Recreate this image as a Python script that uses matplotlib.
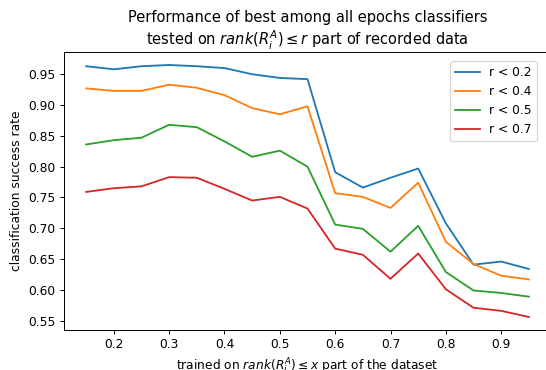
import matplotlib
matplotlib.use("Agg")
import matplotlib.pyplot as plt

x = [0.15, 0.2, 0.25, 0.3, 0.35, 0.4, 0.45, 0.5, 0.55, 0.6, 0.65, 0.7, 0.75, 0.8, 0.85, 0.9, 0.95]
r02 = [0.963, 0.958, 0.963, 0.965, 0.963, 0.960, 0.950, 0.944, 0.942, 0.791, 0.766, 0.782, 0.797, 0.708, 0.641, 0.646, 0.634]
r04 = [0.927, 0.923, 0.923, 0.933, 0.928, 0.916, 0.895, 0.885, 0.898, 0.757, 0.751, 0.733, 0.774, 0.678, 0.642, 0.623, 0.617]
r05 = [0.836, 0.843, 0.847, 0.868, 0.864, 0.841, 0.816, 0.826, 0.800, 0.706, 0.699, 0.662, 0.704, 0.629, 0.599, 0.595, 0.589]
r07 = [0.759, 0.765, 0.768, 0.783, 0.782, 0.764, 0.745, 0.751, 0.732, 0.667, 0.657, 0.618, 0.659, 0.601, 0.571, 0.566, 0.556]
labels = ["r < 0.2", "r < 0.4", "r < 0.5", "r < 0.7"]

DPI = 88
fig = plt.figure(figsize=(546/DPI + 1e-4, 370/DPI + 1e-4), dpi=DPI)
ax = fig.add_axes([64/546, (370-329.6)/370, 487/546, (329.6-52.4)/370])
for ys, lab in zip([r02, r04, r05, r07], labels):
    ax.plot(x, ys, label=lab)
ax.set_title("Performance of best among all epochs classifiers\ntested on $rank(R_i^A) \\leq r$ part of recorded data")
ax.set_xlabel("trained on $rank(R_i^A) \\leq x$ part of the dataset")
ax.set_ylabel("classification success rate")
ax.legend(loc="upper right", bbox_to_anchor=(543/546, (370-55)/370),
          bbox_transform=fig.transFigure)
fig.savefig("out.png", dpi=DPI)
